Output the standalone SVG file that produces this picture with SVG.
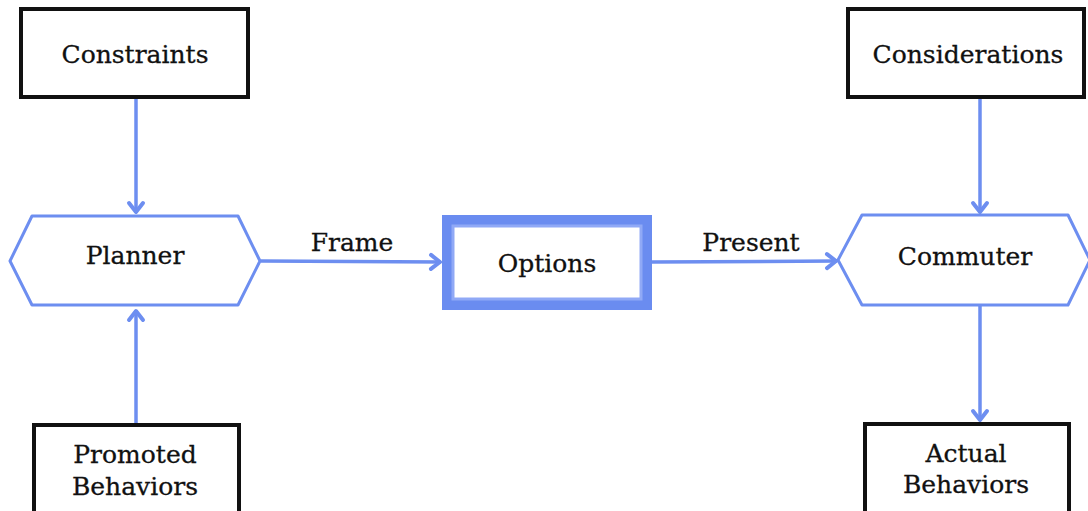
<svg xmlns="http://www.w3.org/2000/svg" width="1088" height="511" viewBox="0 0 1088 511">
<style>
.box{fill:#fff;stroke:#111;stroke-width:4}
.hex{fill:#fff;stroke:#6d8ef0;stroke-width:3;stroke-linejoin:round}
.con{fill:none;stroke:#6d8ef0;stroke-width:3.5}
.t{font-family:"DejaVu Serif","Liberation Serif",serif;font-size:25px;fill:#111;text-anchor:middle;stroke:#111;stroke-width:0.3}
</style>
<defs>
<marker id="ah" markerUnits="userSpaceOnUse" markerWidth="20" markerHeight="20" viewBox="0 0 20 20" refX="17" refY="10" orient="auto">
<path d="M7,3 L16,10 L7,17" fill="none" stroke="#6d8ef0" stroke-width="4" stroke-linejoin="round" stroke-linecap="round"/>
</marker>
</defs>
<rect width="1088" height="511" fill="#fff"/>
<g id="connectors">
<line class="con" x1="136" y1="99" x2="136" y2="213" marker-end="url(#ah)"/>
<line class="con" x1="136" y1="423" x2="136" y2="310" marker-end="url(#ah)"/>
<line class="con" x1="261" y1="261" x2="441" y2="262" marker-end="url(#ah)"/>
<line class="con" x1="652" y1="262" x2="837" y2="261" marker-end="url(#ah)"/>
<line class="con" x1="980" y1="99" x2="980" y2="213" marker-end="url(#ah)"/>
<line class="con" x1="980" y1="306" x2="980" y2="421" marker-end="url(#ah)"/>
<text class="t" x="352" y="251">Frame</text>
<text class="t" x="751" y="251">Present</text>
</g>
<g id="constraints">
<rect class="box" x="21" y="9" width="227" height="88"/>
<text class="t" x="135" y="63">Constraints</text>
</g>
<g id="considerations">
<rect class="box" x="848" y="9" width="236" height="88"/>
<text class="t" x="968" y="63">Considerations</text>
</g>
<g id="planner">
<polygon class="hex" points="10,261 32,216 238,216 260,261 238,305 32,305"/>
<text class="t" x="135" y="264">Planner</text>
</g>
<g id="options">
<rect x="448" y="221" width="198" height="83" fill="#fff" stroke="#6a8cf0" stroke-width="12"/>
<rect x="453" y="226" width="188" height="73" fill="none" stroke="#90a9f6" stroke-width="3"/>
<text class="t" x="547" y="272">Options</text>
</g>
<g id="commuter">
<polygon class="hex" points="838,260 862,215 1068,215 1090,260 1068,305 862,305"/>
<text class="t" x="965" y="265">Commuter</text>
</g>
<g id="promoted">
<rect class="box" x="34" y="425" width="205" height="100"/>
<text class="t" x="135" y="463">Promoted</text>
<text class="t" x="135" y="495">Behaviors</text>
</g>
<g id="actual">
<rect class="box" x="865" y="424" width="204" height="100"/>
<text class="t" x="966" y="462">Actual</text>
<text class="t" x="966" y="493">Behaviors</text>
</g>
</svg>
